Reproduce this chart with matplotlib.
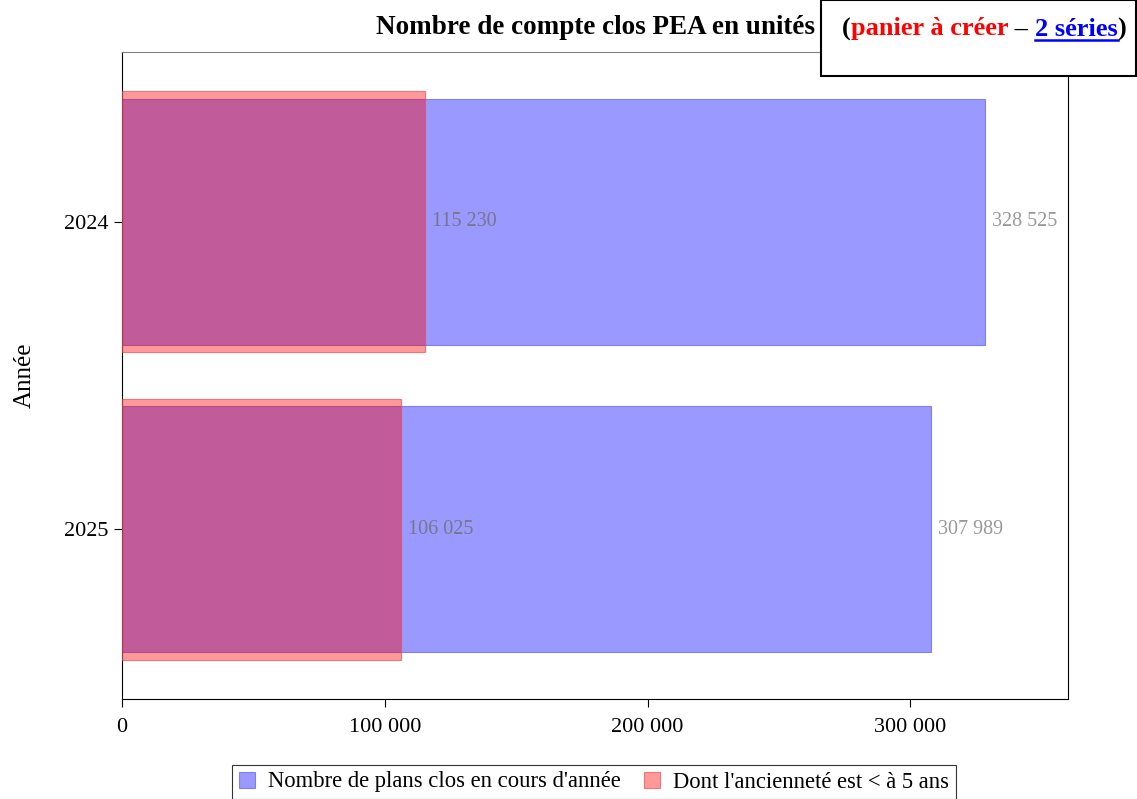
import matplotlib.pyplot as plt
from matplotlib.patches import Rectangle
from matplotlib.ticker import FuncFormatter

plt.rcParams["font.family"] = ["Liberation Serif", "DejaVu Serif"]

YEARS = ["2024", "2025"]
TOTAL_CLOSED = [328525, 307989]
UNDER_5Y = [115230, 106025]
SERIES_LABELS = ["Nombre de plans clos en cours d'année", "Dont l'ancienneté est < à 5 ans"]
TITLE = "Nombre de compte clos PEA en unités"


def fmt_thousands(v, _pos=None):
    return f"{int(round(v)):,}".replace(",", " ")


fig = plt.figure(figsize=(11.37, 7.99), dpi=100)
ax = fig.add_axes([122 / 1137, 1 - 699 / 799, (1068 - 122) / 1137, (699 - 52) / 799])

ypos = list(range(len(YEARS)))
ax.barh(ypos, TOTAL_CLOSED, height=0.8, color=(0, 0, 1, 0.4), edgecolor=(0.3, 0.3, 0.9, 0.6),
        linewidth=0.8, label=SERIES_LABELS[0], zorder=2)
ax.barh(ypos, UNDER_5Y, height=0.85, color=(1, 0, 0, 0.4), edgecolor=(0.95, 0.3, 0.3, 0.7),
        linewidth=0.8, label=SERIES_LABELS[1], zorder=3)

for y, v in zip(ypos, TOTAL_CLOSED):
    ax.annotate(fmt_thousands(v), (v, y), xytext=(5, 0), textcoords="offset points",
                va="center", ha="left", fontsize=14.5, color="#999999")
for y, v in zip(ypos, UNDER_5Y):
    ax.annotate(fmt_thousands(v), (v, y), xytext=(5, 0), textcoords="offset points",
                va="center", ha="left", fontsize=14.5, color="#777788", zorder=4)

ax.set_xlim(0, 360000)
ax.set_ylim(1.553, -0.553)
ax.set_yticks(ypos)
ax.set_yticklabels(YEARS)
ax.set_xticks([0, 100000, 200000, 300000])
ax.xaxis.set_major_formatter(FuncFormatter(fmt_thousands))
ax.tick_params(axis="both", labelsize=16, length=6, color="black")
ax.tick_params(axis="x", pad=8)
ax.tick_params(axis="y", pad=4)
ax.set_ylabel("Année", fontsize=18, labelpad=20)
ax.spines["top"].set_color("#808080")
for s in ["left", "bottom", "right"]:
    ax.spines[s].set_color("black")

fig.text((122 + 1068) / 2 / 1137, 1 - 27 / 799, TITLE, ha="center", va="center",
         fontsize=19.5, fontweight="bold")

# note box top-right
fig.patches.append(Rectangle((821 / 1137, 1 - 76 / 799), (1136 - 821) / 1137, 76 / 799,
                             transform=fig.transFigure, facecolor="white", edgecolor="black",
                             linewidth=1.5, zorder=5))
parts = [("(", "black", False), ("panier à créer", "red", False), (" – ", "black", False),
         ("2 séries", "blue", True), (")", "black", False)]
renderer = fig.canvas.get_renderer()
x = 842
for txt, col, ul in parts:
    t = fig.text(x / 1137, 1 - 29 / 799, txt, ha="left", va="center", fontsize=19,
                 fontweight="bold", color=col, zorder=6)
    bb = t.get_window_extent(renderer=renderer)
    if ul:
        fig.lines.append(plt.Line2D([bb.x0 / 1137, bb.x1 / 1137], [(bb.y0 + 1) / 799] * 2,
                                    transform=fig.transFigure, color=col, linewidth=1.8, zorder=6))
    x += bb.width

leg = fig.legend(loc="center", bbox_to_anchor=(594 / 1137, 1 - 782 / 799), ncol=2, fontsize=16.3,
                 frameon=True, fancybox=False, edgecolor="black", handlelength=0.7,
                 handleheight=0.7, columnspacing=1.0, handletextpad=0.6, borderpad=0.3)
leg.get_frame().set_linewidth(0.8)

fig.savefig("out.png", dpi=100)
